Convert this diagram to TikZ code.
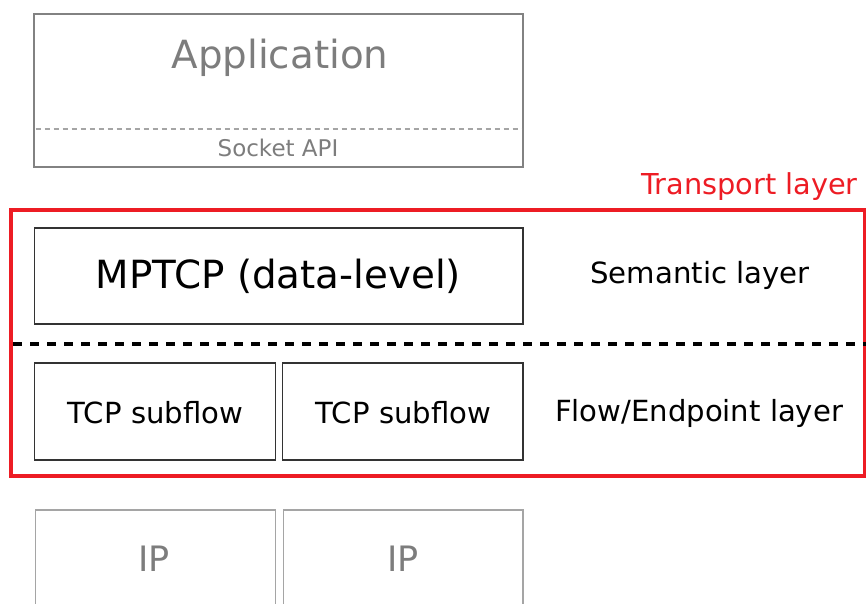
\documentclass[tikz,border=0pt]{standalone}
\usepackage{fontspec}
\setmainfont{DejaVu Sans}
\definecolor{tred}{RGB}{237,28,36}
\definecolor{appgray}{RGB}{130,130,130}
\definecolor{ipgray}{RGB}{165,165,165}
\definecolor{txtgray}{RGB}{125,125,125}
\newcommand{\fsz}[1]{\fontsize{#1}{#1}\selectfont}
\begin{document}
\begin{tikzpicture}[x=1pt,y=-1pt,
  box/.style={draw, rectangle, inner sep=0pt, outer sep=0pt},
  appbox/.style={box, draw=appgray, line width=2.8pt},
  stackbox/.style={box, draw=black!80, line width=1.6pt},
  ipbox/.style={box, draw=ipgray, line width=1.6pt},
  lbl/.style={anchor=base, inner sep=0pt},
  graylbl/.style={lbl, text=txtgray}]
\useasboundingbox (0,0) rectangle (866,603);

% application on top of the socket API
\node[appbox, minimum width=489pt, minimum height=153pt] (app) at (278.5,90.5) {};
\coordinate (apil) at (35.5,129);
\coordinate (apir) at (521.5,129);
\draw[draw=ipgray, line width=1.2pt, dash pattern=on 5pt off 4pt] (apil) -- (apir);
\node[graylbl] (apptxt) at (280,68.3) {\fsz{38.8}Application};
\node[graylbl] (apitxt) at (278,156) {\fsz{23}Socket API};

% transport layer frame
\node[box, draw=tred, line width=4pt, minimum width=854pt, minimum height=266.3pt] (transport) at (437.5,342.85) {};
\node[lbl, text=tred] (transtxt) at (749.5,194.7) {\fsz{28.8}Transport layer};

% boundary between the semantic and flow layers
\coordinate (sepl) at (13,344);
\coordinate (sepr) at (866,344);
\draw[line width=4pt, dash pattern=on 9pt off 8pt] (sepl) -- (sepr);

% semantic layer
\node[stackbox, minimum width=488.5pt, minimum height=96pt] (mptcp) at (278.75,276) {};
\node[lbl] (mptcptxt) at (278.5,288) {\fsz{38.8}MPTCP (data-level)};
\node[lbl] (semtxt) at (700,283.3) {\fsz{29.2}Semantic layer};

% flow / endpoint layer
\node[stackbox, minimum width=241pt, minimum height=97pt] (sub1) at (155,411.5) {};
\node[stackbox, minimum width=240.5pt, minimum height=97pt] (sub2) at (402.75,411.5) {};
\node[lbl] (sub1txt) at (155.5,423.3) {\fsz{29.1}TCP subflow};
\node[lbl] (sub2txt) at (403.5,423.3) {\fsz{29.1}TCP subflow};
\node[lbl] (flowtxt) at (699,421.5) {\fsz{29.1}Flow/Endpoint layer};

% network layer below
\node[ipbox, minimum width=240pt, minimum height=110pt] (ip1) at (155.5,565) {};
\node[ipbox, minimum width=239.5pt, minimum height=110pt] (ip2) at (403.25,565) {};
\node[graylbl] (ip1txt) at (154,571.5) {\fsz{35}IP};
\node[graylbl] (ip2txt) at (403,571.5) {\fsz{35}IP};
\end{tikzpicture}
\end{document}
